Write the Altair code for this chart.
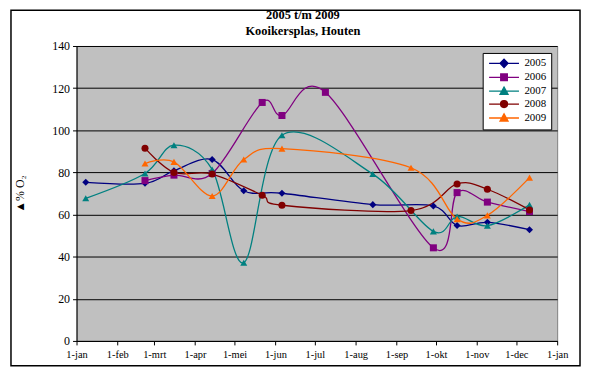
import altair as alt
import pandas as pd

years = ["2005", "2006", "2007", "2008", "2009"]
colors = ["#000080", "#800080", "#008080", "#800000", "#FF6600"]
shapes = ["diamond", "square", "triangle-up", "circle", "triangle-up"]
months = ["jan", "feb", "mrt", "apr", "mei", "jun", "jul", "aug", "sep", "okt", "nov", "dec"]

d2005 = ["01-08", "02-22", "03-16", "04-14", "05-08", "06-06", "08-14", "09-29", "10-17", "11-09", "12-11"]
v2005 = [75.3, 74.8, 80.8, 86.1, 71.3, 70.1, 64.7, 64.1, 54.8, 56.3, 52.8]
d2006 = ["02-22", "03-16", "04-14", "05-22", "06-06", "07-09", "09-29", "10-17", "11-09", "12-11"]
v2006 = [76.1, 78.7, 79.5, 113.2, 107.0, 118.0, 44.2, 70.4, 65.9, 61.4]
d2007 = ["01-08", "02-22", "03-16", "04-14", "05-08", "06-06", "08-14", "09-29", "10-17", "11-09", "12-11"]
v2007 = [67.7, 79.5, 92.9, 81.4, 37.1, 97.6, 79.2, 52.0, 59.1, 54.7, 64.6]
d2008 = ["02-22", "03-16", "04-14", "05-22", "06-06", "09-12", "10-17", "11-09", "12-11"]
v2008 = [91.5, 80.0, 79.2, 69.2, 64.4, 61.9, 74.5, 72.0, 62.2]
d2009 = ["02-22", "03-16", "04-14", "05-08", "06-06", "09-12", "10-17", "11-09", "12-11"]
v2009 = [84.2, 85.0, 68.8, 86.1, 91.3, 82.2, 57.8, 59.6, 77.5]

series = {"2005": (d2005, v2005), "2006": (d2006, v2006), "2007": (d2007, v2007),
          "2008": (d2008, v2008), "2009": (d2009, v2009)}
rows = []
for y, (ds, vs) in series.items():
    for d, v in zip(ds, vs):
        rows.append({"jaar": y, "datum": "2005-" + d + "T00:00:00", "waarde": v})
df = pd.DataFrame(rows)

# legend symbols: line with marker (custom SVG paths)
line = "M-4.3,0H4.3"
legend_paths = [
    line + "M0,-1.2L1.15,0L0,1.2L-1.15,0Z",
    line + "M-0.95,-0.95H0.95V0.95H-0.95Z",
    line + "M0,-1.2L1.15,0.9H-1.15Z",
    line + "M-1,0A1,1,0,1,0,1,0A1,1,0,1,0,-1,0Z",
    line + "M0,-1.2L1.15,0.9H-1.15Z",
]

SERIF = "Liberation Serif, Times New Roman, serif"

tick_dates = [alt.DateTime(year=2005, month=m, date=1) for m in range(1, 13)] + [alt.DateTime(year=2006, month=1, date=1)]
label_expr = "'1-' + " + str(months) + "[month(datum.value)]"

x_enc = alt.X("datum:T",
              scale=alt.Scale(domain=[alt.DateTime(year=2005, month=1, date=1),
                                      alt.DateTime(year=2006, month=1, date=1)]),
              axis=alt.Axis(values=tick_dates, labelExpr=label_expr, title=None, grid=False,
                            labelFont=SERIF, labelFontSize=10.5, labelColor="black",
                            domainColor="black", tickColor="black", tickSize=4, labelPadding=5,
                            labelFlush=False, labelOverlap=False))
y_enc = alt.Y("waarde:Q",
              scale=alt.Scale(domain=[0, 140]),
              axis=alt.Axis(values=list(range(0, 141, 20)), title="▲% O₂", grid=True,
                            gridColor="black", gridWidth=1, domainColor="black", tickColor="black",
                            tickSize=4, labelFont=SERIF, labelFontSize=12,
                            labelColor="black", labelPadding=3, titleFont=SERIF,
                            titleFontSize=12, titleFontWeight="normal", titleColor="black",
                            titleX=-50))

color_scale = alt.Scale(domain=years, range=colors)

base = alt.Chart(df)
lines = base.mark_line(interpolate="cardinal", tension=0, strokeWidth=1.3).encode(
    x=x_enc, y=y_enc, color=alt.Color("jaar:N", scale=color_scale, legend=None),
    detail="jaar:N")
points = base.mark_point(filled=True, opacity=1, size=50).encode(
    x=x_enc, y=y_enc,
    color=alt.Color("jaar:N", scale=color_scale, legend=None),
    shape=alt.Shape("jaar:N", scale=alt.Scale(domain=years, range=shapes), legend=None))

leg = dict(orient="none", legendX=409, legendY=7, title=None, fillColor="white",
           strokeColor="black", padding=5, labelFont=SERIF, labelFontSize=11,
           labelColor="black", symbolSize=49, symbolStrokeWidth=1.3, rowPadding=0,
           symbolOffset=11, labelOffset=15, symbolOpacity=1)
legend_layer = base.transform_filter("false").mark_point(filled=True, opacity=1).encode(
    x=x_enc, y=y_enc,
    shape=alt.Shape("jaar:N", scale=alt.Scale(domain=years, range=legend_paths), legend=alt.Legend(**leg)),
    fill=alt.Fill("jaar:N", scale=color_scale, legend=alt.Legend(**leg)),
    stroke=alt.Stroke("jaar:N", scale=color_scale, legend=alt.Legend(**leg)))

frame_data = alt.Data(values=[{"a": 1}])
frame = alt.Chart(frame_data).mark_rect(fill="transparent", stroke="black", strokeWidth=1.5).encode(
    x=alt.value(-66), x2=alt.value(507), y=alt.value(-36), y2=alt.value(322))
t1 = alt.Chart(frame_data).mark_text(font=SERIF, fontSize=12.5, fontWeight="bold",
                                     baseline="middle", align="center").encode(
    x=alt.value(228), y=alt.value(-31), text=alt.value("2005 t/m 2009"))
t2 = alt.Chart(frame_data).mark_text(font=SERIF, fontSize=12.5, fontWeight="bold",
                                     baseline="middle", align="center").encode(
    x=alt.value(228), y=alt.value(-15), text=alt.value("Kooikersplas, Houten"))

chart = alt.layer(lines, points, legend_layer, frame, t1, t2).resolve_scale(
    shape="independent", fill="independent", stroke="independent"
).properties(
    width=484, height=297,
    autosize=alt.AutoSizeParams(type="none"),
    padding={"left": 69, "top": 37, "right": 24, "bottom": 26},
    background="white"
).configure_view(fill="#C0C0C0", stroke="#808080", strokeWidth=1)

chart.save("out.html", embed_options={"renderer": "svg", "actions": False})
